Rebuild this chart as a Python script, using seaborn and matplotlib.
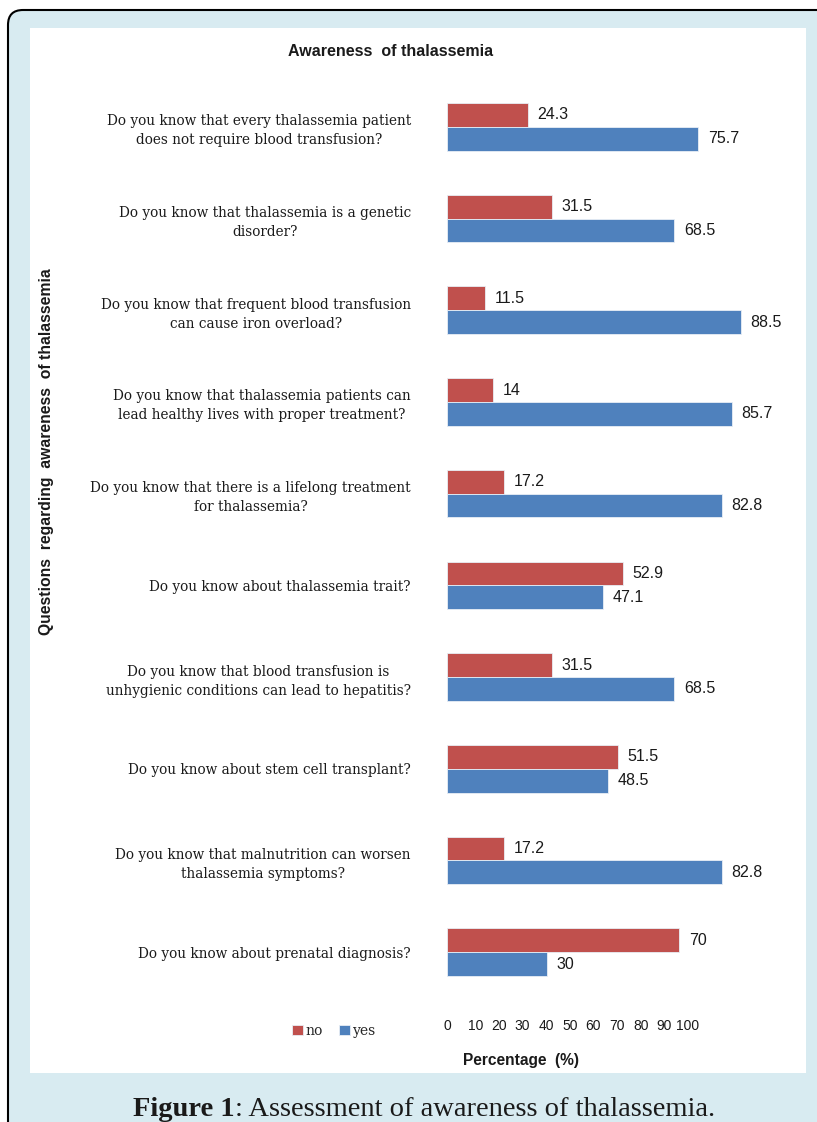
import numpy as np
import pandas as pd
import matplotlib
matplotlib.use("Agg")
import matplotlib.pyplot as plt
from matplotlib.patches import FancyBboxPatch, Rectangle
import seaborn as sns

# data
questions = [
    "Do you know that every thalassemia patient\ndoes not require blood transfusion?",
    "Do you know that thalassemia is a genetic\ndisorder?",
    "Do you know that frequent blood transfusion\ncan cause iron overload?",
    "Do you know that thalassemia patients can\nlead healthy lives with proper treatment?",
    "Do you know that there is a lifelong treatment\nfor thalassemia?",
    "Do you know about thalassemia trait?",
    "Do you know that blood transfusion is\nunhygienic conditions can lead to hepatitis?",
    "Do you know about stem cell transplant?",
    "Do you know that malnutrition can worsen\nthalassemia symptoms?",
    "Do you know about prenatal diagnosis?",
]
no_pct = [24.3, 31.5, 11.5, 14, 17.2, 52.9, 31.5, 51.5, 17.2, 70]
yes_pct = [75.7, 68.5, 88.5, 85.7, 82.8, 47.1, 68.5, 48.5, 82.8, 30]
answers = ["no", "yes"]
tick_values = [0, 10, 20, 30, 40, 50, 60, 70, 80, 90, 100]

df = pd.DataFrame({
    "question": questions * 2,
    "answer": ["no"] * len(questions) + ["yes"] * len(questions),
    "pct": no_pct + yes_pct,
})

sns.set_style("white")
plt.rcParams["font.family"] = ["Liberation Sans", "DejaVu Sans"]
serif = ["DejaVu Serif"]
cap_serif = ["Liberation Serif", "DejaVu Serif"]

W, H = 817, 1122
fig = plt.figure(figsize=(W / 100, H / 100), dpi=100)
fig.patch.set_facecolor("white")

# light blue frame with rounded corner + white inner panel
frame = FancyBboxPatch((0.08, -0.3), 8.6, 11.12 + 0.3,
                       boxstyle="round,pad=0,rounding_size=0.15",
                       transform=fig.dpi_scale_trans, facecolor="#d8ebf1",
                       edgecolor="black", linewidth=1.5, zorder=-3)
fig.add_artist(frame)
panel = Rectangle((0.30, 0.49), 7.76, 10.45, transform=fig.dpi_scale_trans,
                  facecolor="white", edgecolor="none", zorder=-2)
fig.add_artist(panel)

ax = fig.add_axes([447 / W, 1 - 998 / H, 332 / W, (998 - 81) / H])
ax.set_facecolor("none")

palette = {"no": "#c0504d", "yes": "#4f81bd"}
sns.barplot(data=df, y="question", x="pct", hue="answer", hue_order=answers,
            palette=palette, orient="h", width=0.52, saturation=1,
            edgecolor="#e8eef5", linewidth=0.6, ax=ax, legend=True)

for cont in ax.containers:
    ax.bar_label(cont, fmt="%g", padding=7, fontsize=11.5, color="#1a1a1a")

ax.set_xlim(0, 100)
ax.set_ylim(len(questions) - 0.5, -0.5)

# squeezed tick labels, as in the original export
tick_pos = [0 if v == 0 else 1.4 + 0.712 * v for v in tick_values]
ax.set_xticks(tick_pos, [str(v) for v in tick_values], fontsize=10, color="#1a1a1a")
ax.tick_params(axis="x", length=0, pad=15)
ax.tick_params(axis="y", length=0, pad=26)
for lab in ax.get_yticklabels():
    lab.set_fontfamily(serif)
    lab.set_fontsize(9.8)
    lab.set_multialignment("center")
    lab.set_linespacing(1.45)
    lab.set_color("#1a1a1a")

ax.set_xlabel("")
ax.set_ylabel("")
sns.despine(ax=ax, left=True, bottom=True)

# legend
handles, labels = ax.get_legend_handles_labels()
ax.legend_.remove()
fig.legend(handles, labels, loc="center", bbox_to_anchor=(334 / W, 1 - 1031 / H),
           ncol=2, frameon=False, handlelength=0.75, handleheight=0.75,
           handletextpad=0.2, columnspacing=1.2,
           prop={"family": serif, "size": 10})

fig.text(391 / W, 1 - 52 / H, "Awareness  of thalassemia", ha="center", va="center",
         fontsize=11.5, fontweight="bold", color="#1a1a1a")
fig.text(521 / W, 1 - 1060 / H, "Percentage  (%)", ha="center", va="center",
         fontsize=11.2, fontweight="bold", color="#1a1a1a")
fig.text(47 / W, 1 - 452 / H, "Questions  regarding  awareness  of thalassemia",
         rotation=90, ha="center", va="center", fontsize=11.3, fontweight="bold",
         color="#1a1a1a")

# caption
cap1 = fig.text(133 / W, 1 - 1107 / H, "Figure 1", ha="left", va="center_baseline",
                fontsize=20.5, fontweight="bold", family=cap_serif, color="#1a1a1a")
ax.annotate(": Assessment of awareness of thalassemia.", xy=(1, 0), xycoords=cap1,
            ha="left", va="bottom", fontsize=20.5, family=cap_serif, color="#1a1a1a",
            annotation_clip=False)

fig.savefig("out.png", dpi=100)
